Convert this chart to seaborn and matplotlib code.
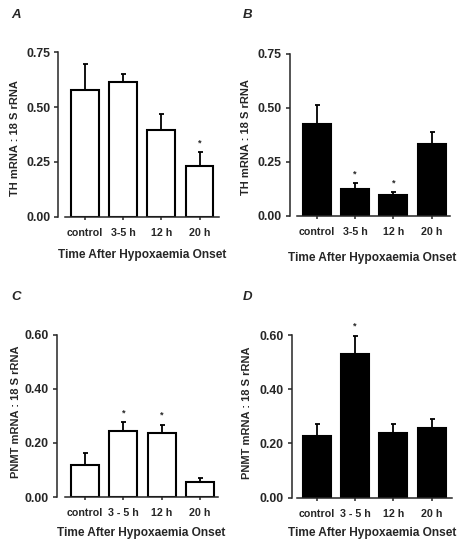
"""Four-panel TH / PNMT mRNA bar charts after hypoxaemia onset."""

import matplotlib
matplotlib.use("Agg")
import matplotlib.pyplot as plt
import seaborn as sns
import pandas as pd
import numpy as np

sns.set_style("ticks")
plt.rcParams['font.family'] = ['Liberation Sans', 'DejaVu Sans']
plt.rcParams['font.weight'] = 'bold'

# ---- data ----
times_th = ["control", "3-5 h", "12 h", "20 h"]
times_pnmt = ["control", "3 - 5 h", "12 h", "20 h"]

th_a_mean = [0.576, 0.613, 0.393, 0.229]
th_a_sem = [0.121, 0.039, 0.077, 0.065]
th_a_sig = [False, False, False, True]

th_b_mean = [0.424, 0.127, 0.096, 0.332]
th_b_sem = [0.092, 0.026, 0.013, 0.058]
th_b_sig = [False, True, True, False]

pnmt_c_mean = [0.117, 0.244, 0.237, 0.054]
pnmt_c_sem = [0.047, 0.033, 0.030, 0.015]
pnmt_c_sig = [False, True, True, False]

pnmt_d_mean = [0.229, 0.530, 0.240, 0.257]
pnmt_d_sem = [0.042, 0.068, 0.031, 0.033]
pnmt_d_sig = [False, True, False, False]

th_ticks = [0.00, 0.25, 0.50, 0.75]
pnmt_ticks = [0.00, 0.20, 0.40, 0.60]

W, H = 462, 544
fig = plt.figure(figsize=(W / 100, H / 100), dpi=100)

# layout in pixels: left, right, top, bottom of the axes box
panels = [
    dict(letter="A", times=times_th, mean=th_a_mean, sem=th_a_sem, sig=th_a_sig,
         ticks=th_ticks, ylabel="TH mRNA : 18 S rRNA", fill="white",
         box=(58.4, 219.0, 52.3, 216.5), xlim=(-0.70, 3.51),
         letter_xy=(11.5, 9.0), ylab_xy=(15.0, 138.0), xlab_xy=(141.7, 249.0)),
    dict(letter="B", times=times_th, mean=th_b_mean, sem=th_b_sem, sig=th_b_sig,
         ticks=th_ticks, ylabel="TH mRNA : 18 S rRNA", fill="black",
         box=(290.0, 450.5, 54.0, 216.0), xlim=(-0.70, 3.49),
         letter_xy=(242.5, 8.5), ylab_xy=(246.0, 137.5), xlab_xy=(371.7, 252.0)),
    dict(letter="C", times=times_pnmt, mean=pnmt_c_mean, sem=pnmt_c_sem, sig=pnmt_c_sig,
         ticks=pnmt_ticks, ylabel="PNMT mRNA : 18 S rRNA", fill="white",
         box=(57.0, 217.5, 334.7, 497.0), xlim=(-0.73, 3.46),
         letter_xy=(11.5, 291.0), ylab_xy=(15.5, 412.0), xlab_xy=(141.3, 527.0)),
    dict(letter="D", times=times_pnmt, mean=pnmt_d_mean, sem=pnmt_d_sem, sig=pnmt_d_sig,
         ticks=pnmt_ticks, ylabel="PNMT mRNA : 18 S rRNA", fill="black",
         box=(291.5, 451.5, 335.3, 497.5), xlim=(-0.66, 3.52),
         letter_xy=(242.5, 291.0), ylab_xy=(246.5, 412.5), xlab_xy=(371.7, 526.7)),
]

for p in panels:
    l, r, t, b = p["box"]
    ax = fig.add_axes([l / W, 1 - b / H, (r - l) / W, (b - t) / H])
    df = pd.DataFrame({"time": p["times"], "value": p["mean"]})

    sns.barplot(data=df, x="time", y="value", order=p["times"], color=p["fill"],
                edgecolor="black", linewidth=1.5, width=0.73, errorbar=None,
                saturation=1, ax=ax)
    xs = np.arange(len(p["times"]))
    ax.errorbar(xs, p["mean"], yerr=[np.zeros(len(xs)), p["sem"]], fmt="none",
                ecolor="black", elinewidth=1.3, capsize=1.8, capthick=1.3, zorder=3)
    for x, m, s, star in zip(xs, p["mean"], p["sem"], p["sig"]):
        if star:
            ax.annotate("*", xy=(x, m + s), xytext=(0, 3.5), textcoords="offset points",
                        ha="center", va="bottom", fontsize=6.5, fontweight="bold")

    ax.set_xlim(*p["xlim"])
    ax.set_ylim(p["ticks"][0], p["ticks"][-1])
    ax.set_yticks(p["ticks"])
    ax.set_yticklabels([f"{v:.2f}" for v in p["ticks"]])
    ax.spines[["top", "right"]].set_visible(False)
    for side in ["left", "bottom"]:
        ax.spines[side].set_linewidth(1.1)
    ax.spines["bottom"].set_bounds(-0.52, p["xlim"][1])
    ax.tick_params(axis="x", length=2.5, width=1.1, pad=5.5, labelsize=7.7)
    ax.tick_params(axis="y", length=2.8, width=1.1, pad=3.0, labelsize=8.8)
    for lab in ax.get_xticklabels() + ax.get_yticklabels():
        lab.set_fontweight("bold")

    h_px = b - t
    w_px = r - l
    ax.set_xlabel("Time After Hypoxaemia Onset", fontsize=8.6, fontweight="bold", va="top")
    ax.xaxis.set_label_coords((p["xlab_xy"][0] - l) / w_px, -(p["xlab_xy"][1] - b) / h_px)
    ax.set_ylabel(p["ylabel"], fontsize=8.0, fontweight="bold", va="center", ha="center")
    ax.yaxis.set_label_coords((p["ylab_xy"][0] - l) / w_px, (b - p["ylab_xy"][1]) / h_px)

    fig.text(p["letter_xy"][0] / W, 1 - p["letter_xy"][1] / H, p["letter"],
             ha="left", va="top", fontsize=9.5, fontweight="bold", fontstyle="italic")

fig.savefig("out.png", dpi=100)
